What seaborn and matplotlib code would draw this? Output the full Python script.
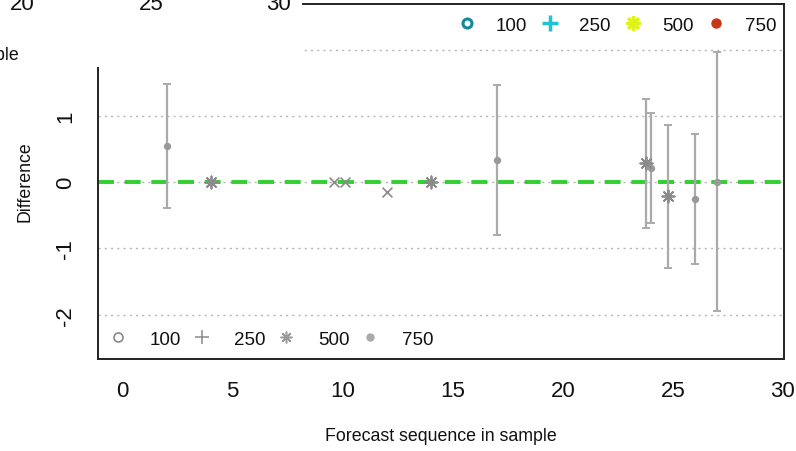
import numpy as np
import pandas as pd
import matplotlib
matplotlib.use("Agg")
import matplotlib.pyplot as plt
import seaborn as sns
from matplotlib.lines import Line2D
from matplotlib.patches import Rectangle

# ---- data ----
seq = [2, 4, 9.6, 10.1, 12, 14, 17, 23.8, 24, 24.8, 26, 27]
diff = [0.548, 0, 0, 0, -0.142, 0, 0.332, 0.287, 0.211, -0.211, -0.252, 0]
kind = ['750', '500', 'x', 'x', 'x', '500', '750', '500', '750', '500', '750', '750']

err_seq = [2, 17, 23.8, 24, 24.8, 26, 27]
err_mid = [0.548, 0.332, 0.287, 0.211, -0.211, -0.252, 0]
err_low = [-0.388, -0.796, -0.69, -0.62, -1.30, -1.23, -1.95]
err_high = [1.485, 1.47, 1.258, 1.045, 0.866, 0.73, 1.968]

legend_labels = ['100', '250', '500', '750']
x_ticks = [0, 5, 10, 15, 20, 25, 30]
y_ticks = [-2, -1, 0, 1, 2]
upper_tick_labels = ['20', '25', '30']

# ---- style ----
sns.set_style("white")
plt.rcParams['font.family'] = ['Liberation Sans', 'DejaVu Sans']
plt.rcParams['lines.scale_dashes'] = False

W, H = 796, 452
fig = plt.figure(figsize=(W / 100, H / 100), dpi=100)
ax = fig.add_axes([98 / W, (H - 360) / H, (784 - 98) / W, (360 - 4.5) / H])

# gridlines
for yv in y_ticks:
    ax.axhline(yv, color='#b5b5b5', lw=1.0, ls=(0, (1.5, 3.0)), zorder=1)
# green reference line
ax.axhline(0, color='#2fd02f', lw=2.8, ls=(0, (11.5, 7.7)), zorder=2)

# error bars
mid = np.array(err_mid)
ax.errorbar(err_seq, err_mid,
            yerr=[mid - np.array(err_low), np.array(err_high) - mid],
            fmt='none', ecolor='#aaaaaa', elinewidth=1.6, capsize=3,
            capthick=1.4, zorder=3)

df = pd.DataFrame({'seq': seq, 'diff': diff, 'kind': kind})
styles = {
    '750': dict(marker='o', s=28, color='#999999', linewidth=0),
    '500': dict(marker=(8, 2, 0), s=78, color='#8a8a8a', linewidth=1.3),
    'x': dict(marker='x', s=50, color='#8a8a8a', linewidth=1.2),
}
for k, st in styles.items():
    sub = df[df['kind'] == k]
    sns.scatterplot(data=sub, x='seq', y='diff', ax=ax, zorder=4, legend=False, **st)

ax.set_xlim(-1.12, 30.05)
ax.set_ylim(-2.67, 2.70)
ax.set_xticks(x_ticks)
ax.set_xticklabels([str(v) for v in x_ticks])
ax.set_yticks(y_ticks)
ax.set_yticklabels([str(v) for v in y_ticks], rotation=90, va='center')
ax.tick_params(axis='both', length=8.3, width=1.2, color='#333333',
               labelsize=16, labelcolor='#111111', direction='out')
ax.tick_params(axis='x', pad=6.5)
ax.tick_params(axis='y', pad=7.5)
for sp in ax.spines.values():
    sp.set_color('#222222')
    sp.set_linewidth(1.4)

ax.set_xlabel('Forecast sequence in sample', fontsize=12.8, color='#111111')
ax.xaxis.set_label_coords(0.5, (360 - 437) / 355.5)
ax.xaxis.label.set_va('center')
ax.set_ylabel('Difference', fontsize=12.8, color='#111111')
ax.yaxis.set_label_coords((25 - 98) / 686, (360 - 181.5) / 355.5)
ax.yaxis.label.set_va('center')

# bottom-left grey legend
h_grey = [
    Line2D([], [], ls='none', marker='o', mfc='none', mec='#808080', ms=6.5, mew=1.1),
    Line2D([], [], ls='none', marker='+', color='#8a8a8a', ms=9.5, mew=1.1),
    Line2D([], [], ls='none', marker=(8, 2, 0), color='#9a9a9a', ms=8.5, mew=1.1),
    Line2D([], [], ls='none', marker='o', mfc='#aaaaaa', mec='#aaaaaa', ms=5),
]
leg1 = ax.legend(h_grey, legend_labels, ncol=4, loc='center left',
                 bbox_to_anchor=((108.6 - 98) / 686, 20 / 355.5),
                 frameon=False, borderpad=0, borderaxespad=0,
                 handlelength=1.0, handletextpad=1.2, columnspacing=0.6,
                 fontsize=13.5)
for t in leg1.get_texts():
    t.set_color('#111111')
ax.add_artist(leg1)

# top-right coloured legend
h_col = [
    Line2D([], [], ls='none', marker='o', mfc='none', mec='#15899a', ms=6.5, mew=2.2),
    Line2D([], [], ls='none', marker='+', color='#1fc3d3', ms=11, mew=2.5),
    Line2D([], [], ls='none', marker=(8, 2, 0), color='#def21c', ms=10.5, mew=2.2),
    Line2D([], [], ls='none', marker='o', mfc='#c8361a', mec='#c8361a', ms=6.5),
]
leg2 = ax.legend(h_col, legend_labels, ncol=4, loc='center left',
                 bbox_to_anchor=((457.6 - 98) / 686, (360 - 26) / 355.5),
                 frameon=False, borderpad=0, borderaxespad=0,
                 handlelength=1.0, handletextpad=1.05, columnspacing=0.7,
                 fontsize=13.5)
for t in leg2.get_texts():
    t.set_color('#111111')

# overlapping fragment of the plot above (its axis labels are cut by the edge, as in the reference)
rect = Rectangle((0, (H - 68) / H), 302 / W, 68 / H, transform=fig.transFigure,
                 facecolor='white', edgecolor='none', zorder=10)
fig.add_artist(rect)
for lab, xc in zip(upper_tick_labels, [22.5, 151.5, 278.5]):
    fig.text(xc / W, 1 - 4.5 / H, lab, ha='center', va='center', fontsize=16,
             color='#111111', zorder=11)
fig.text(18.5 / W, 1 - 60 / H, 'Forecast sequence in sample', ha='right',
         va='baseline', fontsize=12.8, color='#111111', zorder=11)

fig.savefig('out.png', dpi=100)
